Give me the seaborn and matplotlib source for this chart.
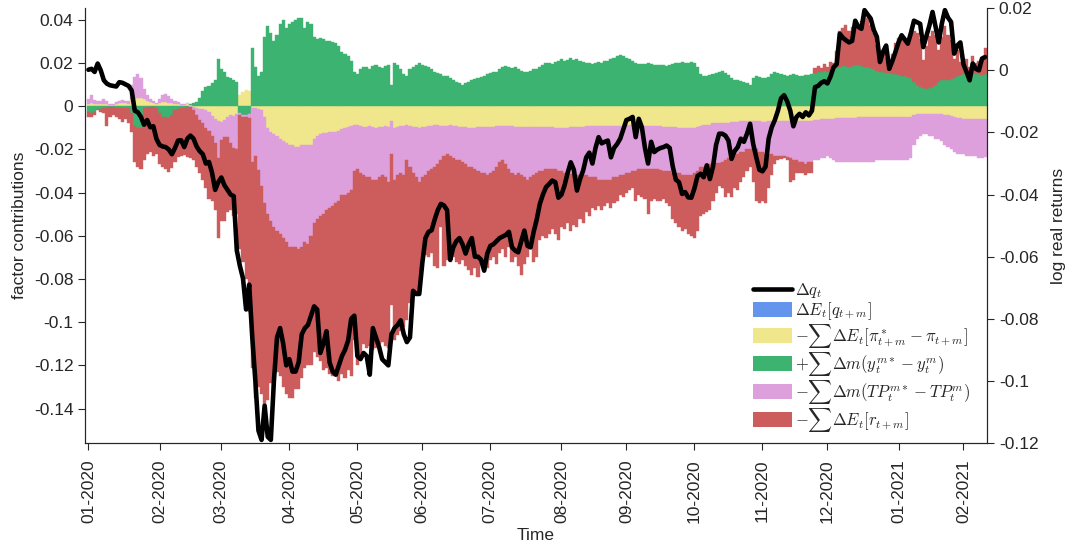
import numpy as np
import pandas as pd
import seaborn as sns
import matplotlib.pyplot as plt
from matplotlib.lines import Line2D
from matplotlib.patches import Patch
from matplotlib.ticker import FuncFormatter

# business days, 01-01-2020 .. 10-02-2021
dates = pd.bdate_range('2020-01-01', '2021-02-10')

# factor contributions, in thousandths (left axis)
inflation = [
    1.0, 1.5, 1.0, 0.8, 1.0, 1.0, 0.8, 0.5, 0.5, 1.0,
    1.5, 1.5, 1.5, 1.2, 3.0, 3.5, 4.0, 4.0, 3.5, 2.5,
    2.0, 1.5, 1.0, 1.5, 2.0, 2.0, 1.5, 1.5, 1.0, 1.0,
    0.5, 0.5, 1.5, 0.5, -0.5, -1.0, -1.5, -1.5, -2.0, -2.5,
    -4.5, -6.0, -7.0, -7.5, -6.5, -5.0, -4.0, -4.5, -3.5, 5.0,
    6.5, 7.5, 7.0, -1.0, -1.0, -1.5, -2.0, -5.0, -10, -12,
    -13, -14, -15, -16, -17, -18, -18, -19, -19, -18,
    -18, -18, -18, -15, -14, -13, -12.5, -12.5, -12, -12,
    -12, -11.5, -10.5, -10, -9.5, -9, -8.5, -8.5, -9, -9.5,
    -9.5, -9, -9.5, -10, -9.5, -9.5, -9, -9.5, -7, -10,
    -9.5, -9, -9, -8.5, -9, -9.5, -9.5, -10, -9.5, -9.5,
    -9, -9, -8.5, -8.5, -9, -9, -9, -8.5, -9, -9,
    -9.5, -9.5, -9.5, -10, -10, -10, -9.5, -9.5, -9.5, -9.5,
    -9.5, -9.5, -9, -9, -9, -9, -9, -9, -9.5, -9.5,
    -9.5, -9.5, -9.5, -9.5, -9.5, -9.5, -9.5, -9.5, -9.5, -9.5,
    -9.5, -10, -10, -10, -10, -10, -9.5, -9.5, -9.5, -9.5,
    -9.5, -9, -9, -9, -9, -9, -9, -9, -9, -9,
    -9, -9, -9, -9, -8.5, -8.5, -8.5, -8.5, -8.5, -8.5,
    -9, -9, -9, -9, -9, -9, -9.5, -9.5, -9.5, -9.5,
    -9.5, -10, -10, -10, -10, -10, -10, -9.5, -9, -8.5,
    -8.5, -8.5, -8, -8, -8, -8, -8, -8, -7.5, -7.5,
    -7.5, -7, -7, -7, -7, -7, -7, -7, -7.5, -7.5,
    -7, -7, -7, -7, -7, -7, -7, -7, -7, -7,
    -7, -7, -7, -7, -7, -6.5, -6.5, -6, -6, -6,
    -6, -6, -5.5, -5.5, -5.5, -5.5, -5.5, -5.5, -5.5, -5,
    -5, -5, -5, -5, -5, -5, -5, -5, -5, -5,
    -5, -5, -5, -5, -5, -5, -5, -4, -3.5, -3.5,
    -3.5, -3.5, -3.5, -3.5, -3.5, -3.5, -3.5, -4, -4, -4.5,
    -5, -5.5, -5.5, -6, -6, -6, -6, -6, -6, -6,
    -6,
]
yields = [
    -2.5, -3.0, -2.5, -1.5, -1.5, -1.0, -1.0, -0.5, -0.5, -0.8,
    -0.8, -0.8, -1.0, -1.0, -3.0, -9.0, -10.0, -10.0, -1.0, -0.5,
    -0.5, -0.5, -1.0, -3.0, -5.0, -5.0, -5.5, -4.0, -2.0, -1.5,
    -1.0, -1.0, -0.5, 0.5, 1.5, 2.0, 4.0, 7.0, 9.0, 9.5,
    10.5, 12.0, 22.0, 17.0, 16.0, 13.5, 13.0, 12.0, 11.0, -3.0,
    -4.0, -4.0, -3.5, 27.0, 18.0, 14.0, 16.0, 32.0, 37, 34,
    30, 33, 38, 40, 36, 38, 39, 40, 41, 41,
    36, 39, 38, 32, 31, 31.5, 31, 30, 30, 29.5,
    29, 28, 25, 24, 23, 21, 16, 15, 17, 18,
    18, 17, 18.5, 19, 18, 17.5, 18.5, 19, 10, 20,
    19, 17, 15, 14, 17, 18, 19, 20, 19, 18.5,
    18, 17, 16, 15.5, 15, 14, 14, 13, 12, 11,
    10.5, 10, 10.5, 11, 12, 12.5, 13, 13.5, 14, 15,
    15.5, 16, 16, 17, 18, 18.5, 18, 17.5, 18, 17,
    16.5, 16, 16, 16.5, 17, 17, 18, 19, 20, 20,
    19.5, 20.5, 21, 22, 21, 21.5, 22.5, 21.5, 22, 21,
    20.5, 20, 20, 19.5, 20, 20.5, 20, 21, 21, 22,
    22.5, 23, 23.5, 23, 22.5, 22, 21, 20, 19.5, 19.5,
    19.5, 20, 19.5, 19, 19, 19, 19, 18.5, 19, 19.5,
    20, 20, 20.5, 20, 20, 20.5, 20, 18, 15, 14,
    14, 14.5, 15, 15.5, 16, 16.5, 15.5, 14.5, 13, 12,
    12, 11.5, 11, 10.5, 10, 13, 14, 13.5, 13, 13,
    13.5, 15, 16, 15.5, 15, 14.5, 14, 14.5, 15, 14.5,
    14, 14, 14.5, 14.5, 15, 15.5, 16, 16, 16.5, 16,
    16.5, 17, 17.5, 18, 18.5, 18.5, 18, 18.5, 19, 19,
    18.5, 18, 18, 17.5, 17, 16.5, 16, 16, 15.5, 15.5,
    15, 15, 14.5, 14, 14, 13.5, 13, 11, 10, 9,
    8.5, 8, 8.5, 9, 10, 11, 12, 12, 12, 12.5,
    13, 14, 14.5, 15, 15, 15, 15, 15, 15, 14.5,
    15,
]
term_premia = [
    2.5, 3.5, 2.0, 1.5, 1.2, 2.5, 1.5, 0.5, 0.3, 1.0,
    1.0, 1.2, 1.0, 1.0, 7.0, 10.0, 11.0, 9.0, 4.5, 2.5,
    1.5, 1.0, 0.5, 2.0, 3.0, 3.5, 3.0, 2.0, 1.5, 1.0,
    0.5, 0.3, 0.0, -0.5, -1.5, -3.0, -5.0, -6.5, -8.0, -9.0,
    -9.5, -11.0, -17.0, -8.0, -8.0, -9.5, -13.0, -15.0, -16.5, -1.0,
    -1.0, -1.0, -2.0, -25.0, -22.0, -28.0, -35.0, -40.0, -40, -41,
    -43, -44, -44, -45, -46, -47, -47, -46, -47, -47,
    -45, -46, -42, -39, -38, -38, -37.5, -35.5, -35, -34,
    -33, -32.5, -30.5, -31, -30.5, -30, -21.5, -20.5, -22, -22.5,
    -23.5, -24, -24.5, -24, -23.5, -22.5, -24, -25.5, -15, -24,
    -22.5, -22, -23, -16.5, -19, -21.5, -23.5, -25, -23.5, -22.5,
    -21, -20, -19.5, -18.5, -16, -14, -13, -14.5, -15, -16,
    -15.5, -16.5, -17.5, -18, -18, -19, -20.5, -21.5, -21.5, -22.5,
    -21.5, -20.5, -19, -17, -16, -18, -20, -22, -22.5, -21.5,
    -22.5, -23.5, -24.5, -23.5, -22.5, -21.5, -20.5, -20.5, -19.5, -19.5,
    -19.5, -19, -20, -20, -21, -21, -22, -22, -22.5, -22.5,
    -22.5, -23, -24, -24, -24, -25, -25, -25, -25, -25,
    -24, -24, -23, -23, -22.5, -22.5, -21.5, -21.5, -20.5, -20.5,
    -20, -20, -20, -20, -20, -20.5, -20.5, -20.5, -20.5, -21.5,
    -21.5, -21, -22, -22, -22, -22, -21, -20.5, -19, -19.5,
    -18.5, -18.5, -19, -18.5, -18.5, -18, -17, -16, -15.5, -15.5,
    -14.5, -14, -14, -13, -13, -12, -13, -14, -13.5, -14.5,
    -15, -15, -16, -16, -16, -16, -16.5, -17, -18, -18,
    -19, -19, -20, -19, -19, -18.5, -18.5, -18, -18, -17,
    -18, -19, -20.5, -20.5, -20.5, -20.5, -20.5, -20.5, -20.5, -21,
    -21, -21, -21, -21, -21, -20, -20, -20, -20, -20,
    -20, -20, -20, -20, -20, -20, -19, -14, -11.5, -10.5,
    -9.5, -9.5, -10.5, -10.5, -11.5, -11.5, -12.5, -14, -15, -15.5,
    -16, -16.5, -16.5, -16, -17, -17, -17, -17, -18, -18,
    -17.5,
]
real_rates = [
    -2.5, -2.0, -1.5, -0.5, -1.0, -2.0, -8.0, -4.5, -3.5, -4.0,
    -5.0, -6.5, -5.0, -7.0, -9.0, -17.0, -18.0, -19.0, -24.0, -21.5,
    -20.5, -22.5, -21.0, -24.0, -23.0, -24.0, -25.0, -24.5, -24.0, -22.0,
    -22.0, -21.5, -23.0, -23.5, -23.0, -24.0, -24.5, -26.0, -28.0, -31.5,
    -30.0, -31.0, -37.0, -37.5, -38.5, -34.5, -31.0, -31.5, -30.0, -62.0,
    -67.0, -75.0, -90.0, -95.0, -112.0, -100.5, -96.0, -94.0, -86, -75,
    -75, -65, -66, -69, -70, -70, -70, -66, -65, -61,
    -58, -56, -60, -60, -64, -67, -72, -73, -77, -79,
    -78, -83, -83, -85, -82, -86, -78, -91, -84, -78,
    -79, -78, -79, -78, -77, -77, -78, -77, -70, -74,
    -74, -73, -70, -74, -63, -57, -54, -51, -37, -37,
    -40, -39, -46, -48, -31, -51, -49, -49, -46, -47,
    -48, -45, -47, -48, -50, -46, -49, -41, -43, -43,
    -40, -40, -45, -42, -41, -43, -36, -41, -38, -43,
    -46, -40, -36, -33, -40, -39, -32, -30, -32, -30,
    -28, -30, -32, -26, -26, -23, -26.5, -23.5, -24, -20,
    -22, -17, -18, -14, -15, -12, -14, -12, -11, -13,
    -12, -11, -9, -10, -9, -8, -8, -14, -12, -13,
    -14, -21, -15, -14, -15, -14.5, -13, -15, -16, -21,
    -23, -25, -26, -25, -27, -28, -30, -28, -23, -22,
    -22, -21, -17, -13.5, -10.5, -12, -17, -16, -19, -15,
    -17, -14, -12, -10, -8, -16, -24, -24, -23, -23,
    -16, -10, -4, -2, -1.5, -1, -1.5, -11, -9, -6,
    -5, -5, -5, -5, -5, 2, 2.5, 1.5, 3, 2,
    4, 3, 8, 17, 17.5, 19, 17, 18, 20, 18,
    21, 26, 23, 20, 17, 12, 8, 10, 7, 4,
    9, 14, 17, 18, 17, 16, 21, 24, 24, 22,
    13, 20, 24, 26, 23, 15, 20, 25, 21, 18,
    9, 12, 6, 5, 7, 3, 8, 5, 6, 7,
    12,
]
# cumulative log real return, in thousandths (right axis)
dq = [
    0.2, 0.5, -0.5, 2.2, 0.0, -3.2, -4.3, -4.8, -5.0, -5.2,
    -3.8, -4.0, -4.5, -5.0, -6.5, -13.0, -13.5, -15.0, -17.5, -16.0,
    -18.3, -18.0, -22.0, -24.0, -24.5, -24.7, -25.5, -27.0, -25.0, -22.6,
    -22.5, -24.7, -22.0, -21.0, -22.0, -24.5, -26.0, -27.0, -30.0, -29.5,
    -33.0, -38.5, -36.0, -34.5, -37.0, -38.5, -40.0, -40.5, -58, -63,
    -67, -77, -69, -86, -100, -116, -119, -108, -118, -119,
    -100, -86, -83, -88, -95, -93, -97, -97, -94, -85,
    -83, -82, -79, -76, -77, -91, -88, -84, -94, -97,
    -98, -95, -92, -90, -87, -80, -79, -92, -93, -91,
    -92, -98, -83, -86, -89, -93, -94, -95, -85, -83,
    -82, -80.5, -85, -87.5, -86, -71, -72, -72, -62, -54,
    -52, -51.5, -48, -45, -43, -43.5, -45, -61, -57, -55,
    -54, -56, -59, -56, -54, -60, -60, -61, -64.5, -59,
    -56.5, -56, -55, -54, -53.5, -53, -52, -57, -58, -58.6,
    -55, -51.6, -56.5, -57, -52, -48, -43, -40, -37.6, -36.6,
    -35.5, -36, -41, -40, -37, -33, -29.6, -32, -38.7, -35,
    -32.3, -28, -26.5, -30, -25, -21.5, -23.5, -23, -22.6, -28,
    -25, -23.7, -22, -19, -16, -15.6, -15, -21.5, -15.6, -18.3,
    -25, -30, -23, -26.3, -25.5, -25, -24.7, -24.2, -25, -31,
    -35.2, -36, -39.8, -39.2, -40.9, -41, -38, -34, -33.3, -34.4,
    -30.6, -35, -31, -24, -20.4, -20.4, -21, -22.6, -28.5, -26,
    -24.7, -22, -23, -20.4, -17.2, -23.7, -28, -32, -32.5, -31,
    -22, -18.3, -16, -13, -9, -8, -10, -13, -18, -15,
    -14, -15, -13.5, -14.5, -13, -5.4, -5, -4, -3.5, -4.2,
    -2, 1, 2, 11.8, 10.5, 9.7, 9, 9.5, 16, 14,
    13.4, 19.4, 18, 16.7, 13, 10.8, 2.7, 6, 8, 0.5,
    3, 5.9, 9, 11.3, 10, 8.6, 12, 16, 15.5, 15,
    7.5, 11, 14.5, 18.8, 14, 9, 15, 19.4, 17, 15.6,
    5.4, 8, 9, 2, -0.5, -3.2, 2.2, 0.5, 0, 3.8,
    4.3,
]

labels = [r'$\Delta q_t$',
          r'$\Delta E_t[q_{t+m}]$',
          r'$-\sum\Delta E_t[\pi^*_{t+m}-\pi_{t+m}]$',
          r'$+\sum\Delta m(y^{m*}_t-y^m_t)$',
          r'$-\sum\Delta m(TP^{m*}_t-TP^m_t)$',
          r'$-\sum\Delta E_t[r_{t+m}]$']
colors = ['#6495ED', '#F0E68C', '#3CB371', '#DDA0DD', '#CD5C5C']

sns.set_style('ticks')
plt.rcParams['font.family'] = ['Liberation Sans', 'DejaVu Sans']
plt.rcParams['mathtext.fontset'] = 'cm'
dark = '#262626'

fig = plt.figure(figsize=(10.73, 5.48), dpi=100)
ax = fig.add_axes([0.0795, 0.1916, 0.8403, 0.7933])
x = np.arange(len(dates))

# stacked bars, positives up and negatives down (blue factor is zero)
pos = np.zeros(len(x))
neg = np.zeros(len(x))
for vals, c in zip([inflation, yields, term_premia, real_rates], colors[1:]):
    v = np.asarray(vals) / 1000
    bottom = np.where(v >= 0, pos, neg)
    ax.bar(x, v, width=1.0, bottom=bottom, color=c, edgecolor=c, linewidth=0.3)
    pos += np.clip(v, 0, None)
    neg += np.clip(v, None, 0)

ax.set_xlim(-1, len(x) - 0.4)
ax.set_ylim(-0.1559, 0.0453)
ax.set_yticks([-0.14, -0.12, -0.1, -0.08, -0.06, -0.04, -0.02, 0, 0.02, 0.04])
fmt = FuncFormatter(lambda v, p: '%g' % round(v, 4))
ax.yaxis.set_major_formatter(fmt)

month_start = np.r_[0, np.where(dates.month[1:] != dates.month[:-1])[0] + 1]
ax.set_xticks(month_start)
ax.set_xticklabels(dates[month_start].strftime('%m-%Y'), rotation=90)
ax.set_xlabel('Time', fontsize=12.5, color=dark, labelpad=3)
ax.set_ylabel('factor contributions', fontsize=12.5, color=dark, labelpad=5)

ax2 = ax.twinx()
sns.lineplot(x=x, y=np.asarray(dq) / 1000, ax=ax2, color='black', linewidth=3.3)
ax2.set_ylim(-0.12, 0.02)
ax2.set_yticks([-0.12, -0.1, -0.08, -0.06, -0.04, -0.02, 0, 0.02])
ax2.yaxis.set_major_formatter(fmt)
ax2.set_ylabel('log real returns', fontsize=12.5, color=dark, labelpad=9)

for a in (ax, ax2):
    a.spines['top'].set_visible(False)
    for s in a.spines.values():
        s.set_color(dark)
        s.set_linewidth(0.8)
    a.tick_params(direction='out', length=5, width=0.8, colors=dark, labelsize=12.5)
ax.tick_params(axis='x', pad=7)

handles = [Line2D([0], [0], color='black', linewidth=3.3)] + \
          [Patch(facecolor=c, edgecolor='none') for c in colors]
ax2.legend(handles, labels, loc='upper left', frameon=False,
           bbox_to_anchor=(745 / 1073, 1 - 273 / 548), bbox_transform=fig.transFigure,
           borderpad=0, fontsize=12, handlelength=2.3, handleheight=1.0,
           handletextpad=0.2, labelspacing=0.0)

fig.savefig('out.png', dpi=100)
